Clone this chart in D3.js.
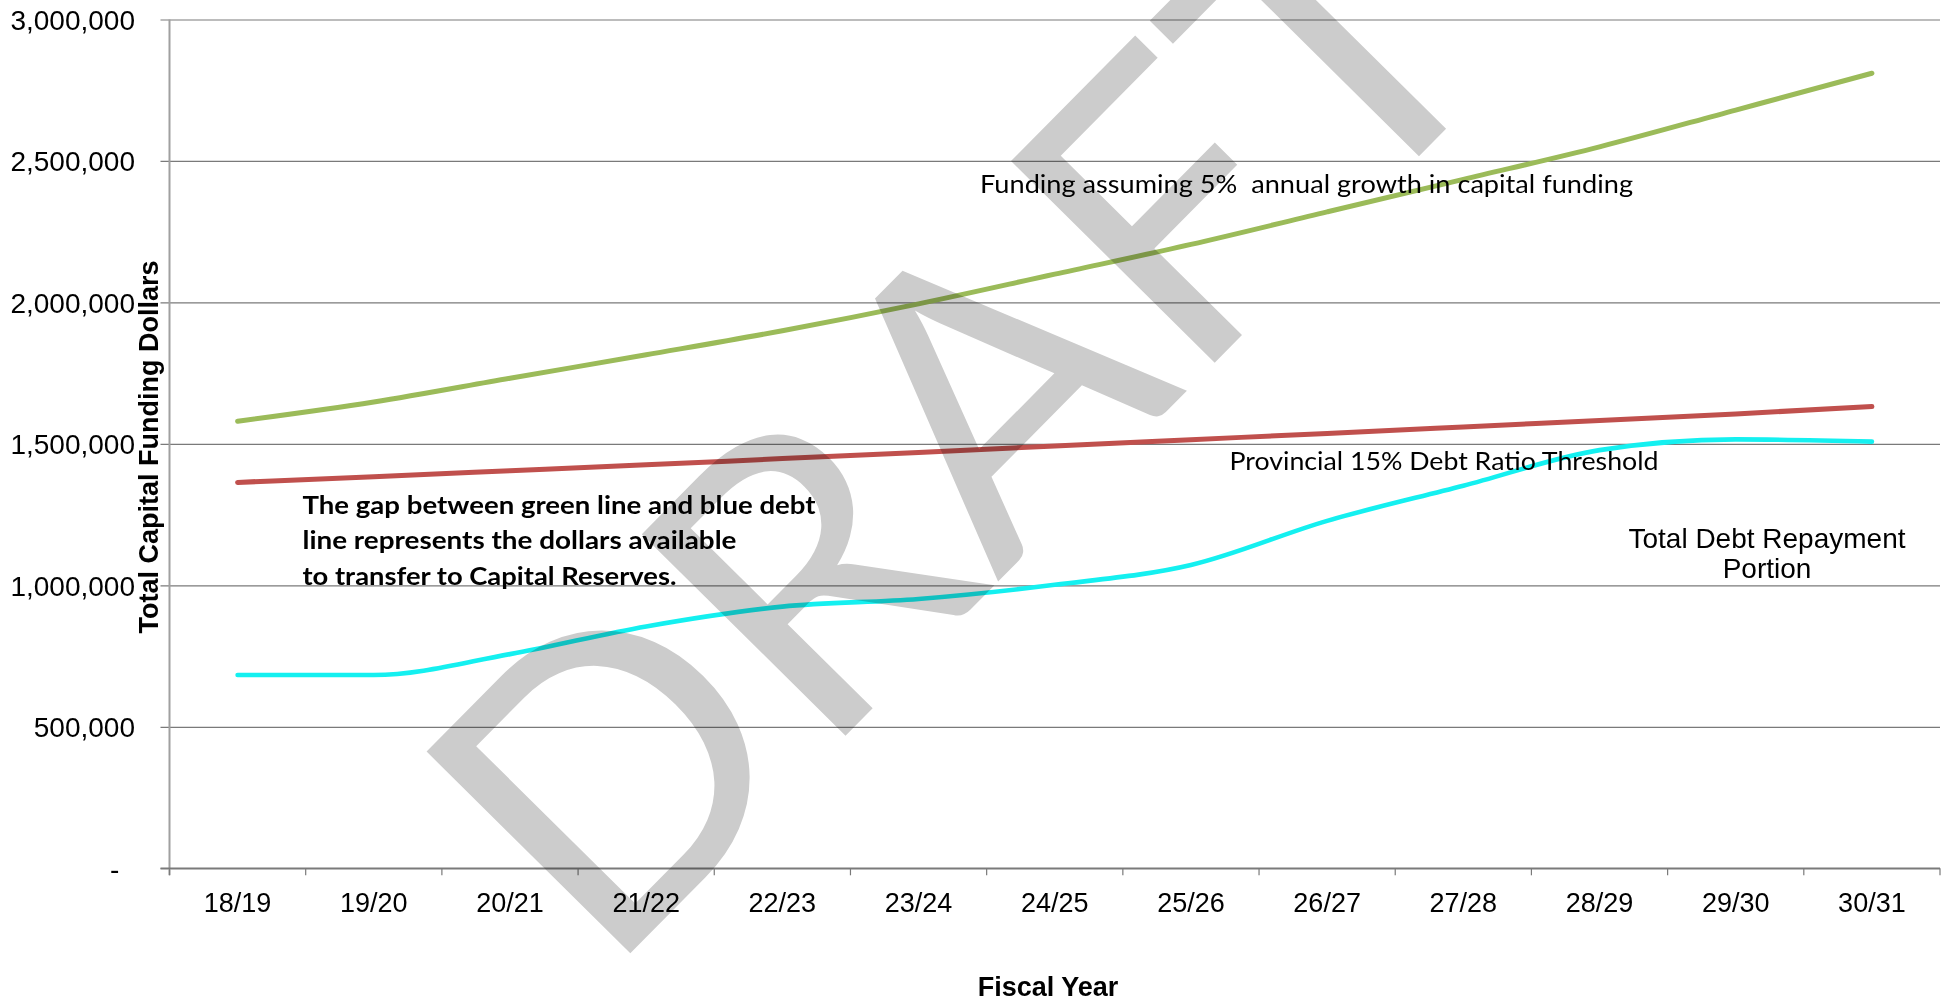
<!DOCTYPE html>
<html>
<head>
<meta charset="utf-8">
<script src="https://cdn.jsdelivr.net/npm/d3@7"></script>
<style>
  html, body { margin: 0; padding: 0; background: #ffffff; }
  svg { display: block; }
  .arial { font-family: "Liberation Sans", Arial, sans-serif; }
  .calibri { font-family: Lato, "Open Sans", sans-serif; }
</style>
</head>
<body>
<svg id="chart" width="1950" height="1001"></svg>
<script>
// Fiscal years on the category axis
const categories = ["18/19", "19/20", "20/21", "21/22", "22/23", "23/24", "24/25",
                    "25/26", "26/27", "27/28", "28/29", "29/30", "30/31"];

// Capital funding with 5% annual growth
const fundingGrowth = [1580000, 1648000, 1732000, 1815000, 1900000, 1995000, 2100000,
                       2205000, 2320000, 2435000, 2550000, 2680000, 2810000];

// Provincial 15% debt ratio threshold
const debtThreshold = [1364000, 1384000, 1405000, 1426000, 1448000, 1470000, 1493000,
                       1515000, 1537000, 1560000, 1583000, 1606000, 1632000];

// Total debt repayment portion
const debtRepayment = [683000, 683000, 757000, 855000, 925000, 952000, 1002000,
                       1072000, 1228000, 1352000, 1478000, 1516000, 1508000];

const yTickValues = [0, 500000, 1000000, 1500000, 2000000, 2500000, 3000000];

const svg = d3.select("#chart");

const plot = { left: 169.5, right: 1940, top: 19.5, bottom: 868.3 };

const x = d3.scaleBand().domain(categories).range([plot.left, plot.right]).paddingInner(0).paddingOuter(0);
const xc = d => x(d) + x.bandwidth() / 2;
const y = d3.scaleLinear().domain([0, 3000000]).range([plot.bottom, plot.top]);

const fmt = d3.format(",");

// Horizontal gridlines with left tick stubs
const yAxis = d3.axisLeft(y)
  .tickValues(yTickValues)
  .tickSize(-(plot.right - plot.left) - 9)
  .tickPadding(0)
  .tickFormat(d => d === 0 ? "-\u00A0\u00A0" : fmt(d));

const gy = svg.append("g")
  .attr("class", "arial")
  .attr("transform", `translate(${plot.right},0)`)
  .call(yAxis);
gy.select(".domain").remove();
gy.selectAll(".tick line")
  .attr("x1", 0)
  .attr("x2", -(plot.right - plot.left) - 9)
  .attr("stroke", "#7a7a7a")
  .attr("stroke-width", 1.2);
gy.selectAll(".tick text")
  .attr("x", -(plot.right - 135))
  .attr("dy", "0.35em")
  .attr("fill", "#000")
  .style("font-size", "28px")
  .style("white-space", "pre");

// Vertical value axis line
svg.append("line")
  .attr("x1", plot.left).attr("x2", plot.left)
  .attr("y1", plot.top).attr("y2", plot.bottom + 7)
  .attr("stroke", "#a0a0a0").attr("stroke-width", 2);

// Category axis: baseline, tick marks between categories, labels at centres
svg.append("line")
  .attr("x1", plot.left - 9).attr("x2", plot.right)
  .attr("y1", plot.bottom).attr("y2", plot.bottom)
  .attr("stroke", "#7a7a7a").attr("stroke-width", 1.4);

const boundaries = categories.map(c => x(c)).concat([plot.right]);
svg.append("g").selectAll("line")
  .data(boundaries)
  .join("line")
  .attr("x1", d => d).attr("x2", d => d)
  .attr("y1", plot.bottom).attr("y2", plot.bottom + 7)
  .attr("stroke", "#7a7a7a").attr("stroke-width", 1.2);

svg.append("g").attr("class", "arial").selectAll("text")
  .data(categories)
  .join("text")
  .attr("x", d => xc(d))
  .attr("y", 911.5)
  .attr("text-anchor", "middle")
  .style("font-size", "27px")
  .attr("fill", "#000")
  .text(d => d);

// Axis titles
svg.append("text")
  .attr("class", "arial")
  .attr("transform", "translate(158,447) rotate(-90)")
  .attr("text-anchor", "middle")
  .style("font-size", "27px")
  .style("font-weight", "bold")
  .text("Total Capital Funding Dollars");

svg.append("text")
  .attr("class", "arial")
  .attr("x", 1048).attr("y", 996)
  .attr("text-anchor", "middle")
  .style("font-size", "27px")
  .style("font-weight", "bold")
  .text("Fiscal Year");

// Series lines
const line = d3.line()
  .x((d, i) => xc(categories[i]))
  .y(d => y(d))
  .curve(d3.curveMonotoneX);

const series = [
  { values: fundingGrowth, color: "#9BBB59", width: 5 },
  { values: debtThreshold, color: "#C0504D", width: 5 },
  { values: debtRepayment, color: "#14F0F0", width: 4.6 }
];

svg.append("g").selectAll("path")
  .data(series)
  .join("path")
  .attr("d", d => line(d.values))
  .attr("fill", "none")
  .attr("stroke", d => d.color)
  .attr("stroke-width", d => d.width)
  .attr("stroke-linecap", "round")
  .attr("stroke-linejoin", "round");

// Series annotations
function calibriText(g, txt, xPos, yPos, size, width, bold) {
  return g.append("text")
    .attr("class", "calibri")
    .attr("x", xPos).attr("y", yPos)
    .attr("textLength", width)
    .attr("lengthAdjust", "spacingAndGlyphs")
    .style("font-size", size + "px")
    .style("font-weight", bold ? "bold" : "normal")
    .attr("fill", "#000")
    .text(txt);
}

const notes = svg.append("g");
calibriText(notes, "Funding assuming 5%  annual growth in capital funding", 980, 193, 25.5, 653, false)
  .style("white-space", "pre");
calibriText(notes, "Provincial 15% Debt Ratio Threshold", 1229.5, 469.5, 25, 429, false);

const gapLines = [
  "The gap between green line and blue debt",
  "line represents the dollars available",
  "to transfer to Capital Reserves."
];
const gapWidths = [513, 434, 374];
gapLines.forEach((t, i) => calibriText(notes, t, 302.5, 513.5 + i * 35.5, 24, gapWidths[i], true));

notes.append("text")
  .attr("class", "arial")
  .attr("text-anchor", "middle")
  .style("font-size", "28px")
  .attr("fill", "#000")
  .selectAll("tspan")
  .data(["Total Debt Repayment", "Portion"])
  .join("tspan")
  .attr("x", 1767)
  .attr("y", (d, i) => 548 + i * 30)
  .text(d => d);

// DRAFT watermark laid over the chart
svg.append("text")
  .attr("class", "calibri")
  .attr("transform", "translate(1060,519) rotate(-45.3)")
  .attr("text-anchor", "middle")
  .attr("textLength", 1295)
  .attr("lengthAdjust", "spacing")
  .style("font-size", "400px")
  .style("font-weight", "normal")
  .style("mix-blend-mode", "multiply")
  .attr("fill", "#cccccc")
  .text("DRAFT");
</script>
</body>
</html>
